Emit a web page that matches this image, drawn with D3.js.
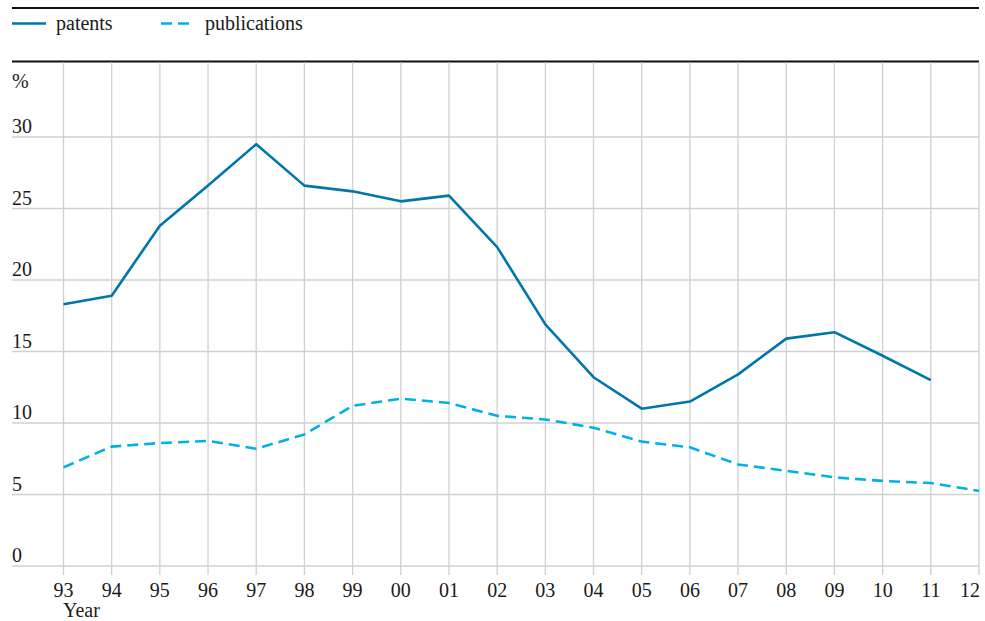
<!DOCTYPE html>
<html>
<head>
<meta charset="utf-8">
<script src="https://cdn.jsdelivr.net/npm/d3@7/dist/d3.min.js"></script>
<style>
  html, body { margin: 0; padding: 0; background: #fff; }
  svg { display: block; }
  text { font-family: "Liberation Serif", "Times New Roman", serif; fill: #1a1a1a; }
</style>
</head>
<body>
<svg id="chart" width="985" height="621"></svg>
<script>
const years = ["93","94","95","96","97","98","99","00","01","02","03","04","05","06","07","08","09","10","11","12"];
const patents = [18.3, 18.9, 23.8, 26.6, 29.5, 26.6, 26.2, 25.5, 25.9, 22.3, 16.9, 13.2, 11.0, 11.5, 13.4, 15.9, 16.35, 14.7, 13.0, null];
const publications = [6.9, 8.35, 8.6, 8.75, 8.2, 9.2, 11.2, 11.7, 11.4, 10.5, 10.25, 9.67, 8.7, 8.3, 7.1, 6.65, 6.2, 5.95, 5.8, 5.25];
const yTicks = [0, 5, 10, 15, 20, 25, 30];
const seriesNames = ["patents", "publications"];
const colors = ["#0077a9", "#00b0e6"];

const FS = 20;
const svg = d3.select("#chart");
const left = 12, right = 979;
const x = d3.scalePoint().domain(years).range([63.5, 979]);
const y = d3.scaleLinear().domain([0, 30]).range([566, 137]);

// top rules
svg.append("line").attr("x1", left).attr("x2", right).attr("y1", 8).attr("y2", 8)
  .attr("stroke", "#111").attr("stroke-width", 2);
svg.append("line").attr("x1", left).attr("x2", right).attr("y1", 61.5).attr("y2", 61.5)
  .attr("stroke", "#111").attr("stroke-width", 2);

// legend
const legendX = [12, 161];
seriesNames.forEach((name, i) => {
  const g = svg.append("g");
  g.append("line").attr("x1", legendX[i]).attr("x2", legendX[i] + 34)
    .attr("y1", 23.5).attr("y2", 23.5)
    .attr("stroke", colors[i]).attr("stroke-width", 2.5)
    .attr("stroke-dasharray", i === 1 ? "11,6" : null);
  g.append("text").attr("x", legendX[i] + 44).attr("y", 30)
    .attr("font-size", FS).text(name);
});

// vertical grid
svg.append("g").selectAll("line").data(years).join("line")
  .attr("x1", d => x(d)).attr("x2", d => x(d))
  .attr("y1", 62.5).attr("y2", 575)
  .attr("stroke", "#d0d0d0").attr("stroke-width", 1.3);

// horizontal grid
svg.append("g").selectAll("line").data(yTicks).join("line")
  .attr("x1", left).attr("x2", right)
  .attr("y1", d => y(d)).attr("y2", d => y(d))
  .attr("stroke", "#d0d0d0").attr("stroke-width", 1.3);

// y labels
svg.append("g").selectAll("text").data(yTicks).join("text")
  .attr("x", 12).attr("y", d => y(d) - 4)
  .attr("font-size", FS).text(d => d);
svg.append("text").attr("x", 12).attr("y", 88).attr("font-size", FS).text("%");

// x labels
const lastYear = years[years.length - 1];
svg.append("g").selectAll("text").data(years).join("text")
  .attr("x", d => d === lastYear ? x(d) + 1 : x(d)).attr("y", 597)
  .attr("text-anchor", d => d === lastYear ? "end" : "middle")
  .attr("font-size", FS).text(d => d);
svg.append("text").attr("x", 63).attr("y", 617).attr("font-size", FS).text("Year");

// lines
const line = d3.line()
  .defined(d => d.v != null)
  .x(d => x(d.year)).y(d => y(d.v));
[patents, publications].forEach((vals, i) => {
  const data = years.map((yr, j) => ({year: yr, v: vals[j]}));
  svg.append("path").datum(data)
    .attr("d", line)
    .attr("fill", "none")
    .attr("stroke", colors[i])
    .attr("stroke-width", 2.6)
    .attr("stroke-linejoin", "round")
    .attr("stroke-dasharray", i === 1 ? "11,6" : null);
});
</script>
</body>
</html>
